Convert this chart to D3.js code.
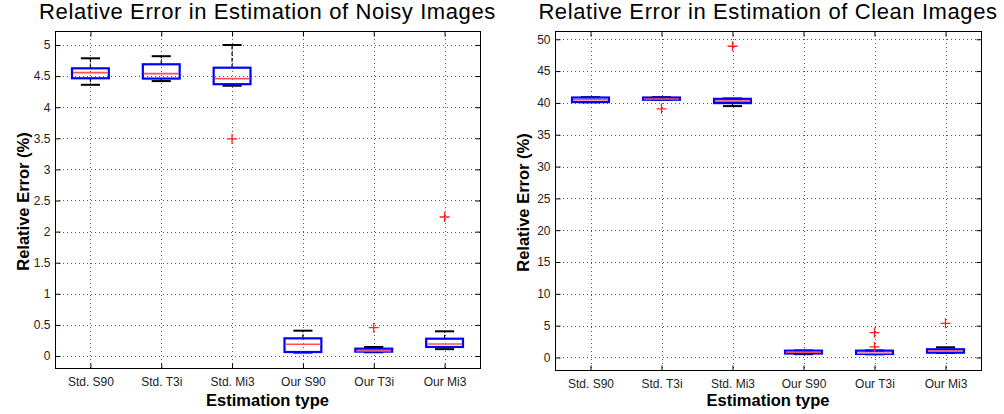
<!DOCTYPE html>
<html>
<head>
<meta charset="utf-8">
<script src="https://cdn.jsdelivr.net/npm/d3@7"></script>
<style>
  html, body { margin: 0; padding: 0; background: #fff; }
  svg { display: block; font-family: "Liberation Sans", Arial, sans-serif; }
</style>
</head>
<body>
<svg id="chart" width="1004" height="414"></svg>
<script>
// Estimation types along the x axis
const categories = ["Std. S90", "Std. T3i", "Std. Mi3", "Our S90", "Our T3i", "Our Mi3"];

// Noisy images: box plot statistics (relative error, %)
const noisyLow     = [4.36, 4.42, 4.345, 0.055, 0.06, 0.11];
const noisyQ1      = [4.465, 4.46, 4.37, 0.064, 0.07, 0.145];
const noisyMedian  = [4.555, 4.54, 4.46, 0.188, 0.08, 0.193];
const noisyQ3      = [4.625, 4.69, 4.635, 0.284, 0.118, 0.278];
const noisyHigh    = [4.786, 4.82, 5.0, 0.407, 0.145, 0.397];
const noisyOutliers = [[], [], [3.49], [], [0.455], [2.235]];
const noisyTicks   = [0, 0.5, 1, 1.5, 2, 2.5, 3, 3.5, 4, 4.5, 5];

// Clean images: box plot statistics (relative error, %)
const cleanLow     = [40.1, 40.5, 39.5, 0.52, 0.5, 0.7];
const cleanQ1      = [40.13, 40.5, 39.97, 0.62, 0.55, 0.75];
const cleanMedian  = [40.49, 40.62, 40.28, 0.82, 0.66, 1.02];
const cleanQ3      = [40.85, 40.85, 40.64, 1.07, 1.07, 1.29];
const cleanHigh    = [40.9, 40.9, 40.7, 1.1, 1.1, 1.6];
const cleanOutliers = [[], [39.07], [48.9], [], [3.9, 1.65], [5.37]];
const cleanTicks   = [0, 5, 10, 15, 20, 25, 30, 35, 40, 45, 50];

const svg = d3.select("#chart");

function drawPanel(cfg) {
  const { left, right, top, bottom, yDomain, ticks, title, stats } = cfg;
  const g = svg.append("g");

  const x = d3.scaleLinear().domain([0.5, categories.length + 0.5]).range([left, right]);
  const y = d3.scaleLinear().domain(yDomain).range([bottom, top]);
  const step = x(2) - x(1);

  // dotted grid
  const grid = g.append("g").attr("stroke", "#555").attr("stroke-width", 1)
    .attr("stroke-dasharray", "1,3");
  grid.selectAll("line.gy").data(ticks).join("line")
    .attr("x1", left).attr("x2", right)
    .attr("y1", d => Math.round(y(d)) + 0.5).attr("y2", d => Math.round(y(d)) + 0.5);
  grid.selectAll("line.gx").data(categories).join("line")
    .attr("x1", (d, i) => Math.round(x(i + 1)) + 0.5).attr("x2", (d, i) => Math.round(x(i + 1)) + 0.5)
    .attr("y1", top).attr("y2", bottom);

  // axes with inward ticks on all four sides
  const tickLen = 5;
  const yAxisL = d3.axisLeft(y).tickValues(ticks).tickSize(-tickLen).tickPadding(5).tickFormat(d3.format("~g"));
  const yAxisR = d3.axisRight(y).tickValues(ticks).tickSize(-tickLen).tickFormat("");
  const xAxisB = d3.axisBottom(x).tickValues(d3.range(1, categories.length + 1))
    .tickSize(-tickLen).tickPadding(9).tickFormat((d) => categories[d - 1]);
  const xAxisT = d3.axisTop(x).tickValues(d3.range(1, categories.length + 1)).tickSize(-tickLen).tickFormat("");

  const axes = [
    g.append("g").attr("transform", `translate(${left + 0.5},0)`).call(yAxisL),
    g.append("g").attr("transform", `translate(${right + 0.5},0)`).call(yAxisR),
    g.append("g").attr("transform", `translate(0,${bottom + 0.5})`).call(xAxisB),
    g.append("g").attr("transform", `translate(0,${top + 0.5})`).call(xAxisT)
  ];
  axes.forEach(a => {
    a.select(".domain").remove();
    a.selectAll(".tick line").attr("stroke", "#000");
    a.selectAll(".tick text").attr("fill", "#222").style("font-size", "12px")
      .style("font-family", "'Liberation Sans', Arial, sans-serif");
  });

  // frame
  g.append("rect").attr("x", left + 0.5).attr("y", top + 0.5)
    .attr("width", right - left).attr("height", bottom - top)
    .attr("fill", "none").attr("stroke", "#000").attr("stroke-width", 1);

  // boxes
  const boxW = step * 0.52;
  const capW = step * 0.27;
  const boxes = g.append("g");
  categories.forEach((c, i) => {
    const cx = x(i + 1);
    const b = boxes.append("g");
    // whiskers
    b.append("line").attr("x1", cx).attr("x2", cx)
      .attr("y1", y(stats.q3[i])).attr("y2", y(stats.high[i]))
      .attr("stroke", "#000").attr("stroke-width", 1.2).attr("stroke-dasharray", "4,2");
    b.append("line").attr("x1", cx).attr("x2", cx)
      .attr("y1", y(stats.q1[i])).attr("y2", y(stats.low[i]))
      .attr("stroke", "#000").attr("stroke-width", 1.2).attr("stroke-dasharray", "4,2");
    [stats.high[i], stats.low[i]].forEach(v => {
      b.append("line").attr("x1", cx - capW / 2).attr("x2", cx + capW / 2)
        .attr("y1", y(v)).attr("y2", y(v))
        .attr("stroke", "#000").attr("stroke-width", 2);
    });
    // box
    b.append("rect").attr("x", cx - boxW / 2).attr("width", boxW)
      .attr("y", y(stats.q3[i])).attr("height", Math.max(y(stats.q1[i]) - y(stats.q3[i]), 0.5))
      .attr("fill", "none").attr("stroke", "#0000ff").attr("stroke-width", 2.2);
    // median
    b.append("line").attr("x1", cx - boxW / 2 + 1).attr("x2", cx + boxW / 2 - 1)
      .attr("y1", y(stats.median[i])).attr("y2", y(stats.median[i]))
      .attr("stroke", "#ff5050").attr("stroke-width", 1.6);
    // outliers
    stats.outliers[i].forEach(v => {
      const py = y(v);
      b.append("path").attr("d", `M${cx - 5},${py}H${cx + 5}M${cx},${py - 5}V${py + 5}`)
        .attr("stroke", "#ff2020").attr("stroke-width", 1.3).attr("fill", "none");
    });
  });

  // titles
  const mid = (left + right) / 2;
  g.append("text").attr("x", mid).attr("y", 19).attr("text-anchor", "middle")
    .style("font-size", "22px").style("letter-spacing", "0.6px").attr("fill", "#000").text(title);
  g.append("text").attr("x", mid).attr("y", 406).attr("text-anchor", "middle")
    .style("font-size", "16.5px").style("font-weight", "bold").attr("fill", "#000")
    .text("Estimation type");
  g.append("text").attr("transform", `translate(${left - 26},${(top + bottom) / 2 + 2}) rotate(-90)`)
    .attr("text-anchor", "middle")
    .style("font-size", "16.5px").style("font-weight", "bold").attr("fill", "#000")
    .text("Relative Error (%)");
}

drawPanel({
  left: 55, right: 480, top: 31, bottom: 368,
  yDomain: [-0.193, 5.225], ticks: noisyTicks,
  title: "Relative Error in Estimation of Noisy Images",
  stats: { low: noisyLow, q1: noisyQ1, median: noisyMedian, q3: noisyQ3, high: noisyHigh, outliers: noisyOutliers }
});

drawPanel({
  left: 555, right: 981, top: 31, bottom: 370,
  yDomain: [-1.97, 51.3], ticks: cleanTicks,
  title: "Relative Error in Estimation of Clean Images",
  stats: { low: cleanLow, q1: cleanQ1, median: cleanMedian, q3: cleanQ3, high: cleanHigh, outliers: cleanOutliers }
});
</script>
</body>
</html>
